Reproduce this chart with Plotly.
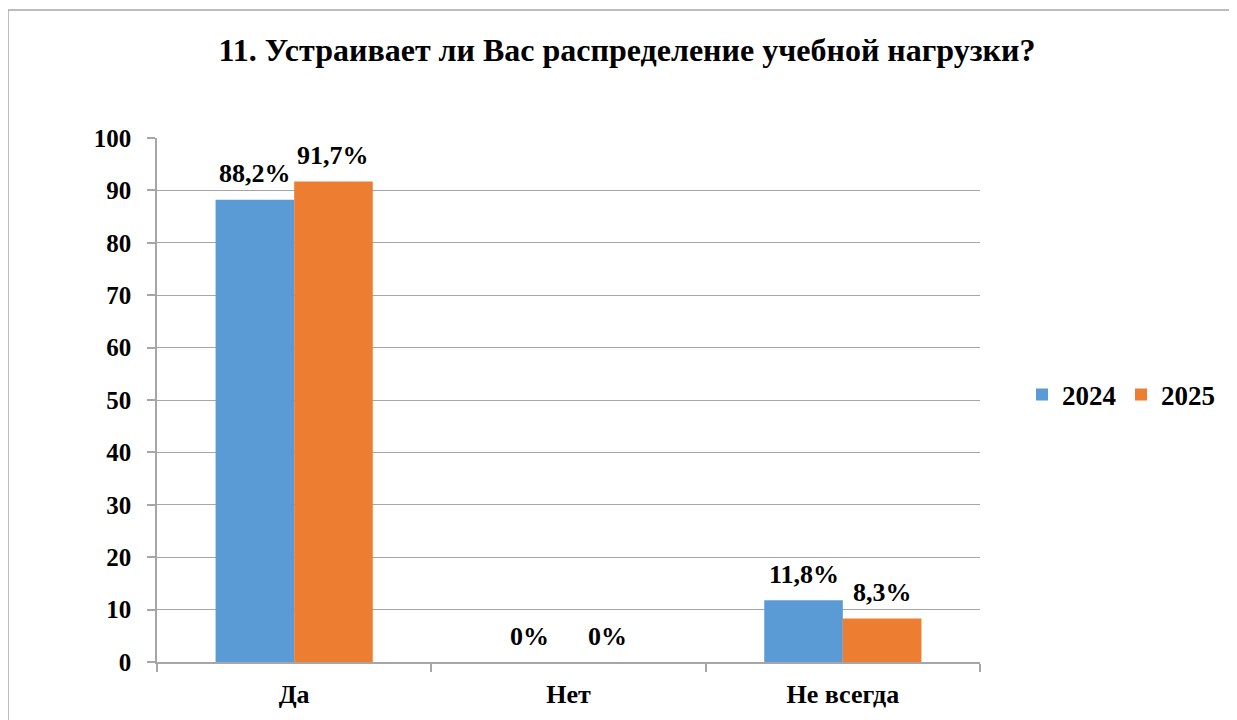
import plotly.graph_objects as go

categories = ["Да", "Нет", "Не всегда"]
series_names = ["2024", "2025"]
values_2024 = [88.2, 0, 11.8]
values_2025 = [91.7, 0, 8.3]
title_text = "11. Устраивает ли Вас распределение учебной нагрузки?"
y_ticks = [0, 10, 20, 30, 40, 50, 60, 70, 80, 90, 100]

colors = ["#5B9BD5", "#ED7D31"]
FONT = "Liberation Serif"


def fmt(v):
    s = ("%g" % v).replace(".", ",")
    return s + "%"


# page body has an 8px margin, so figure coordinates = screen coordinates - 8
OFF = 8
W, H = 1237 - OFF, 720 - OFF
L, R, T, B = 157 - OFF, 980 - OFF, 138 - OFF, 662 - OFF
pw, ph = R - L, B - T
BARGAP = 0.427
bar_w = pw / len(categories) * (1 - BARGAP) / 2


def f(size):
    return dict(family=FONT, size=size, color="black", weight="bold")


fig = go.Figure()
for name, vals, col in zip(series_names, [values_2024, values_2025], colors):
    fig.add_trace(go.Bar(
        x=categories, y=vals, name=name,
        marker=dict(color=col, line=dict(width=0)),
    ))

# data labels placed above each bar, like the reference
for si, vals in enumerate([values_2024, values_2025]):
    shift = (si - 0.5) * bar_w
    for cat, v in zip(categories, vals):
        fig.add_annotation(x=cat, y=v, xref="x", yref="y", text=fmt(v), showarrow=False,
                           xshift=shift, yshift=26, xanchor="center", yanchor="middle",
                           font=f(26))

fig.update_layout(
    width=W, height=H,
    margin=dict(l=L, r=W - R, t=T, b=H - B, pad=0),
    paper_bgcolor="white", plot_bgcolor="white",
    font=dict(family=FONT, color="black"),
    barmode="group", bargap=BARGAP, bargroupgap=0,
    title=dict(text=title_text, x=(627 - OFF) / W, xanchor="center", y=1 - (50 - OFF) / H, yanchor="middle",
               font=f(32)),
    legend=dict(orientation="h", x=(1022 - OFF - L) / pw, xanchor="left", y=(B - (395 - OFF)) / ph, yanchor="middle",
                font=f(27), itemwidth=30, tracegroupgap=0, bgcolor="rgba(0,0,0,0)"),
    xaxis=dict(showline=True, linecolor="#a6a6a6", linewidth=1.5, ticks="outside", tickson="boundaries",
               ticklen=8, tickcolor="#a6a6a6", tickwidth=1.5, tickfont=f(26), ticklabelstandoff=8,
               showgrid=False, zeroline=False),
    yaxis=dict(range=[0, 100], tickvals=y_ticks, showline=True, linecolor="#a6a6a6", linewidth=1.5,
               ticks="outside", ticklen=8, tickcolor="#a6a6a6", tickwidth=1.5, ticklabelstandoff=11,
               showgrid=True, gridcolor="#a6a6a6", gridwidth=1.2, zeroline=False, tickfont=f(25)),
    shapes=[dict(type="rect", xref="paper", yref="paper",
                 x0=(8 - OFF - L) / pw, x1=(1234 - OFF - L) / pw,
                 y0=(B - 760) / ph, y1=(B - (10 - OFF)) / ph,
                 line=dict(color="#a6a6a6", width=1.5), fillcolor="rgba(0,0,0,0)", layer="below")],
)

fig.write_html("out.html")
